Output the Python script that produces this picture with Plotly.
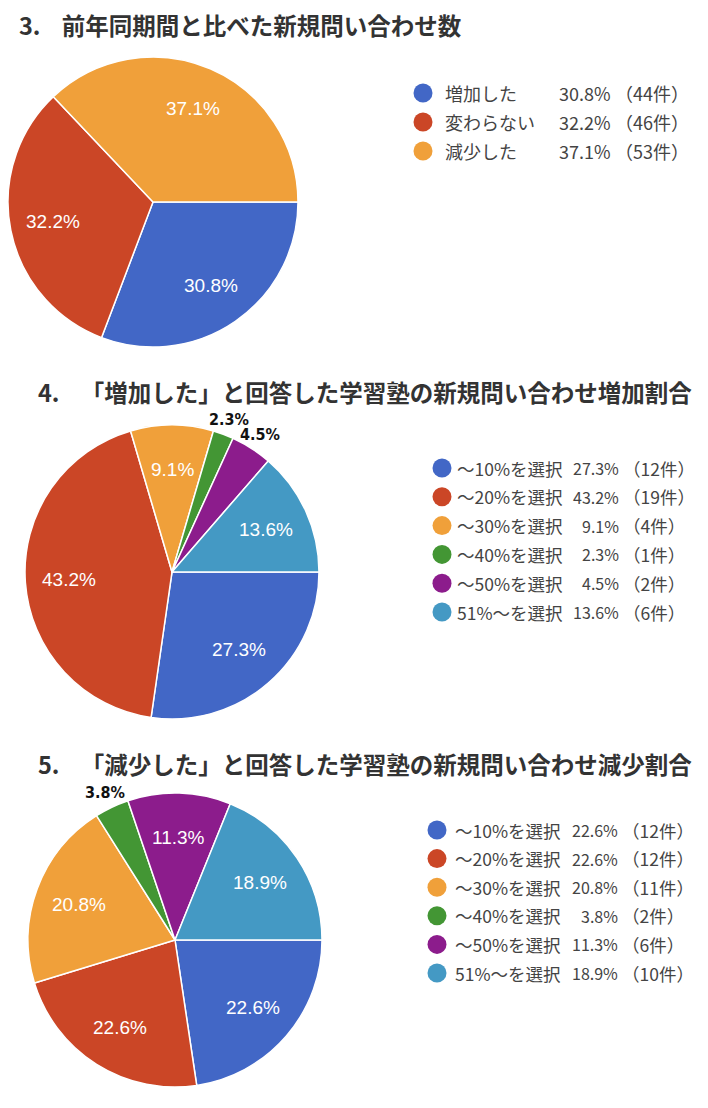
import math
import plotly.graph_objects as go

# データ
titles = [
    "3.\u00a0\u00a0\u00a0\u00a0前年同期間と比べた新規問い合わせ数",
    "4.\u00a0\u00a0\u00a0\u00a0「増加した」と回答した学習塾の新規問い合わせ増加割合",
    "5.\u00a0\u00a0\u00a0\u00a0「減少した」と回答した学習塾の新規問い合わせ減少割合",
]

labels_1 = ["増加した", "変わらない", "減少した"]
counts_1 = [44, 46, 53]

labels_2 = ["～10%を選択", "～20%を選択", "～30%を選択", "～40%を選択", "～50%を選択", "51%～を選択"]
counts_2 = [12, 19, 4, 1, 2, 6]

labels_3 = ["～10%を選択", "～20%を選択", "～30%を選択", "～40%を選択", "～50%を選択", "51%～を選択"]
counts_3 = [12, 12, 11, 2, 6, 10]

colors = ["#4267C6", "#CB4626", "#F0A03A", "#439634", "#8C1C8C", "#4499C4"]

# 小さいスライスはラベルを外側に出す
outside_1 = [False, False, False]
outside_2 = [False, False, False, True, True, False]
outside_3 = [False, False, False, True, False, False]

# ページ座標 -> 図の座標 (body の余白 8px)
OFF = 8
W, H = 708 - 2 * OFF, 1108 - 2 * OFF

# レイアウト（ページ上のピクセル）: 円の中心x, 中心y, 半径
pie_geom = [(153, 202, 145), (172, 572, 147), (175, 940, 147)]
# タイトル: x, y, 文字サイズ
title_pos = [(17, 25, 23.5), (36, 392, 23.5), (36, 764, 23.5)]
# 凡例: ドットx, ラベルx, 区切りx, 先頭y, 行間, ラベル文字サイズ, 数値文字サイズ
legend_cfg = [
    (423, 443, 613, 93, 29.0, 18, 18),
    (442, 455, 621, 468, 28.8, 17.5, 16),
    (437, 453, 620, 830, 28.6, 17.5, 16),
]

charts = [
    (labels_1, counts_1, outside_1),
    (labels_2, counts_2, outside_2),
    (labels_3, counts_3, outside_3),
]

fig = go.Figure()
annotations = []

for i, (labels, counts, outside) in enumerate(charts):
    cx, cy, r = pie_geom[i]
    cx, cy = cx - OFF, cy - OFF
    fig.add_trace(go.Pie(
        labels=labels,
        values=counts,
        sort=False,
        direction="clockwise",
        rotation=90,
        marker=dict(colors=colors[:len(labels)], line=dict(color="white", width=1.5)),
        textinfo="none",
        hoverinfo="skip",
        showlegend=False,
        domain=dict(x=[max(0, (cx - r) / W), (cx + r) / W], y=[1 - (cy + r) / H, 1 - (cy - r) / H]),
    ))

    # スライスのラベル（中心角から配置）
    total = sum(counts)
    cum = 0
    for c, out in zip(counts, outside):
        frac = (cum + c / 2) / total
        cum += c
        theta = math.radians(90 + frac * 360)
        rr = r * (1.11 if out else 0.70)
        x = cx + rr * math.sin(theta)
        y = cy - rr * math.cos(theta)
        txt = f"{c / total * 100:.1f}%"
        if out:
            font = dict(family="DejaVu Sans Condensed", size=16, color="#111111", weight="bold")
        else:
            font = dict(family="Liberation Sans", size=19, color="white")
        annotations.append(dict(x=x, y=y, xref="x", yref="y", text=txt, showarrow=False,
                                xanchor="center", yanchor="middle", font=font))

    # 凡例
    dot_x, lab_x, sep_x, top_y, step, fsize, vsize = legend_cfg[i]
    ys = [top_y - OFF + k * step for k in range(len(labels))]
    fig.add_trace(go.Scatter(
        x=[dot_x - OFF] * len(labels), y=ys, mode="markers",
        marker=dict(size=19, color=colors[:len(labels)]),
        hoverinfo="skip", showlegend=False, xaxis="x", yaxis="y",
    ))

    font = dict(family="Noto Sans CJK JP", size=fsize, color="#444444")
    vfont = dict(family="Noto Sans CJK JP", size=vsize, color="#444444")
    for lab, c, y in zip(labels, counts, ys):
        annotations.append(dict(x=lab_x - OFF, y=y, xref="x", yref="y", text=lab,
                                showarrow=False, xanchor="left", yanchor="middle", font=font))
        annotations.append(dict(x=sep_x - OFF, y=y, xref="x", yref="y", text=f"{c / total * 100:.1f}%",
                                showarrow=False, xanchor="right", yanchor="middle", font=vfont))
        annotations.append(dict(x=sep_x - OFF, y=y, xref="x", yref="y", text=f"（{c}件）",
                                showarrow=False, xanchor="left", yanchor="middle", font=font))

    tx, ty, tsize = title_pos[i]
    annotations.append(dict(x=tx - OFF, y=ty - OFF, xref="x", yref="y", text=titles[i], showarrow=False,
                            xanchor="left", yanchor="middle",
                            font=dict(family="Noto Sans CJK JP", size=tsize, color="#333333", weight="bold")))

fig.update_layout(
    width=W, height=H,
    margin=dict(l=0, r=0, t=0, b=0),
    paper_bgcolor="white", plot_bgcolor="white",
    xaxis=dict(range=[0, W], domain=[0, 1], visible=False, fixedrange=True),
    yaxis=dict(range=[H, 0], domain=[0, 1], visible=False, fixedrange=True),
    annotations=annotations,
)

fig.write_html("out.html")
